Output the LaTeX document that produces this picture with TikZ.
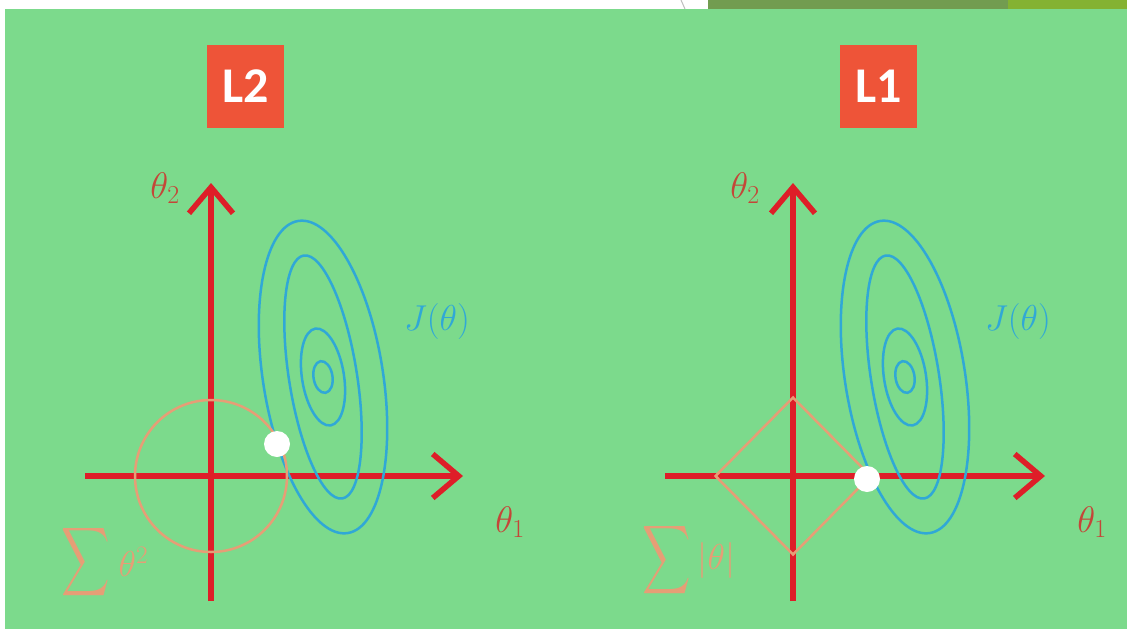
\RequirePackage{fix-cm}
\documentclass[tikz,border=0pt]{standalone}
\usepackage{amsmath, amssymb}
\usepackage{fontspec}
\usepackage{xcolor}
\usetikzlibrary{positioning, arrows.meta, shapes.geometric, calc}

\newfontfamily\tagfont{Carlito}

\definecolor{slidegreen}{RGB}{124,218,140}
\definecolor{axisred}{RGB}{222,30,40}
\definecolor{tagred}{RGB}{238,84,56}
\definecolor{normpeach}{RGB}{230,158,118}
\definecolor{costblue}{RGB}{48,168,214}
\definecolor{labelred}{RGB}{196,70,56}
\definecolor{olivebar}{RGB}{114,156,80}
\definecolor{limebar}{RGB}{132,178,50}

\tikzset{
  axisline/.style={draw=axisred, line width=5.5pt, -{Straight Barb[length=26pt, width=44pt]}},
  tag/.style={fill=tagred, text=white, font=\tagfont\bfseries\fontsize{50}{54}\selectfont,
    minimum width=77pt, minimum height=83pt, inner sep=0pt},
  axislabel/.style={text=labelred, font=\fontsize{37}{40}\selectfont},
  costlabel/.style={text=costblue, font=\fontsize{36}{40}\selectfont},
  contour/.style={draw=costblue, line width=2.5pt},
  normball/.style={draw=normpeach, line width=2.5pt, inner sep=0pt},
  sumsign/.style={text=normpeach, font=\fontsize{48}{50}\selectfont, inner sep=0pt},
  sumterm/.style={text=normpeach, font=\fontsize{36}{38}\selectfont, inner sep=0pt},
  touch/.style={circle, fill=white, minimum size=26pt, inner sep=0pt}
}

\begin{document}
\begin{tikzpicture}[x=1pt, y=-1pt]
    \useasboundingbox (0,0) rectangle (1127,629);
    % slide background
    \fill[white] (0,0) rectangle (1127,629);
    \draw[gray!50, line width=1pt] (681,0) -- (685,9);
    \fill[olivebar] (708,0) rectangle (1008,9);
    \fill[limebar] (1008,0) rectangle (1127,9);
    \fill[slidegreen] (5,9) rectangle (1127,629);

    % L2 panel
    \node[tag] (tagL2) at (245.5,86.5) {L2};
    \coordinate (originL2) at (211,476);
    \coordinate (botL2) at (211,601);
    \coordinate (topL2) at (211,183);
    \coordinate (leftL2) at (85,476);
    \coordinate (rightL2) at (463,476);
    \draw[axisline] (botL2) -- (topL2);
    \draw[axisline] (leftL2) -- (rightL2);
    \foreach \rx/\ry in {60/158, 34/123, 21/49, 9.5/16}
        \draw[contour, rotate around={9:(323,377)}] (323,377) ellipse [x radius=\rx, y radius=\ry];
    \node[normball, circle, minimum size=152pt] (ballL2) at (originL2) {};
    \node[touch] (dotL2) at (277,444) {};
    \node[axislabel] (th2L2) at (165,188) {$\theta_2$};
    \node[axislabel] (th1L2) at (510,522) {$\theta_1$};
    \node[costlabel] (costL2) at (437,321) {$J(\theta)$};
    \node[sumsign] (sumL2) at (86,562) {\scalebox{0.7}[1]{$\displaystyle\sum$}};
    \node[sumterm, right=8pt of sumL2] (sqL2) {$\theta^2$};

    % L1 panel
    \node[tag] (tagL1) at (878.5,86.5) {L1};
    \coordinate (originL1) at (793,476);
    \coordinate (botL1) at (793,601);
    \coordinate (topL1) at (793,183);
    \coordinate (leftL1) at (665,476);
    \coordinate (rightL1) at (1045,476);
    \draw[axisline] (botL1) -- (topL1);
    \draw[axisline] (leftL1) -- (rightL1);
    \foreach \rx/\ry in {60/158, 34/123, 21/49, 9.5/16}
        \draw[contour, rotate around={9:(905,377)}] (905,377) ellipse [x radius=\rx, y radius=\ry];
    \node[normball, diamond, minimum width=156pt, minimum height=158pt] (ballL1) at (originL1) {};
    \node[touch] (dotL1) at (867,479) {};
    \node[axislabel] (th2L1) at (745,188) {$\theta_2$};
    \node[axislabel] (th1L1) at (1092,522) {$\theta_1$};
    \node[costlabel] (costL1) at (1018,321) {$J(\theta)$};
    \node[sumsign] (sumL1) at (667,560) {\scalebox{0.7}[1]{$\displaystyle\sum$}};
    \node[sumterm, right=6pt of sumL1] (absL1) {$|\theta|$};
\end{tikzpicture}
\end{document}
